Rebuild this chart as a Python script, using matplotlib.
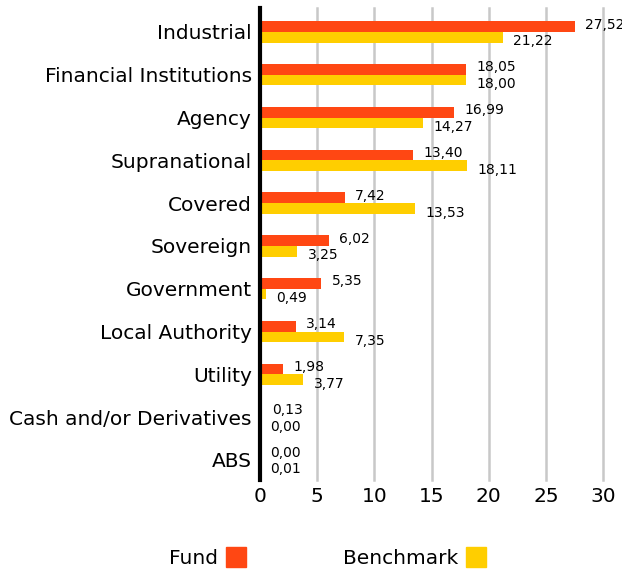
import numpy as np
import matplotlib
matplotlib.use("Agg")
from matplotlib import pyplot as plt
from matplotlib.lines import Line2D

categories = ["Industrial", "Financial Institutions", "Agency", "Supranational", "Covered",
              "Sovereign", "Government", "Local Authority", "Utility", "Cash and/or Derivatives", "ABS"]
fund = [27.52, 18.05, 16.99, 13.40, 7.42, 6.02, 5.35, 3.14, 1.98, 0.13, 0.00]
benchmark = [21.22, 18.00, 14.27, 18.11, 13.53, 3.25, 0.49, 7.35, 3.77, 0.00, 0.01]
x_ticks = [0, 5, 10, 15, 20, 25, 30]

FUND_COLOR = "#FF4713"
BENCH_COLOR = "#FFCE00"

fig = plt.figure(figsize=(6.22, 5.73), dpi=100)
ax = fig.add_axes([260 / 622, 1 - 480 / 573, 343 / 622, 472 / 573])

y = np.arange(len(categories))
h = 0.25
ax.barh(y - h / 2, fund, height=h, color=FUND_COLOR, zorder=3)
ax.barh(y + h / 2, benchmark, height=h, color=BENCH_COLOR, zorder=3)


def fmt(v):
    return f"{v:.2f}".replace(".", ",")


# value labels: fund slightly above its bar, benchmark slightly below its bar
for yi, f, b in zip(y, fund, benchmark):
    ax.annotate(fmt(f), (f, yi - 0.17), xytext=(7.5, 0), textcoords="offset points",
                va="center", ha="left", fontsize=10, annotation_clip=False)
    ax.annotate(fmt(b), (b, yi + 0.22), xytext=(7.5, 0), textcoords="offset points",
                va="center", ha="left", fontsize=10, annotation_clip=False)

ax.set_xlim(0, 30)
ax.set_ylim(len(categories) - 0.53, -0.56)
ax.set_yticks(y)
ax.set_yticklabels(categories, fontsize=14.5)
ax.set_xticks(x_ticks)
ax.set_xticklabels([str(t) for t in x_ticks], fontsize=14.5)
ax.tick_params(axis="both", length=0)
ax.tick_params(axis="y", pad=6)
ax.tick_params(axis="x", pad=5)

for t in x_ticks[1:]:
    ax.axvline(t, color="#c8c8c8", linewidth=1.8, zorder=1, clip_on=False)

for s in ["top", "right", "bottom"]:
    ax.spines[s].set_visible(False)
ax.spines["left"].set_linewidth(3)
ax.spines["left"].set_color("black")
ax.spines["left"].set_zorder(4)

handles = [
    Line2D([], [], marker="s", linestyle="none", markersize=14.5, color=FUND_COLOR, label="Fund"),
    Line2D([], [], marker="s", linestyle="none", markersize=14.5, color=BENCH_COLOR, label="Benchmark"),
]
fig.legend(handles=handles, loc="center", bbox_to_anchor=(0.527, 0.026), ncol=2,
           markerfirst=False, frameon=False, fontsize=14.5, handlelength=1.0,
           handletextpad=0.4, columnspacing=4.8)

fig.savefig("out.png", dpi=100)
